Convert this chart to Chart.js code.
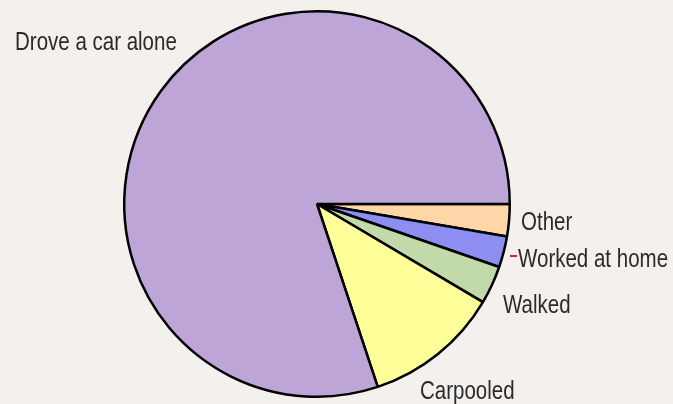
<!DOCTYPE html>
<html>
<head>
<meta charset="utf-8">
<script src="https://cdn.jsdelivr.net/npm/chart.js@4/dist/chart.umd.min.js"></script>
<style>
  html, body { margin: 0; padding: 0; background: #f3f0ed; }
  #wrap { width: 673px; height: 404px; }
</style>
</head>
<body>
<div id="wrap"><canvas id="c" width="673" height="404"></canvas></div>
<script>
// values (percent of commuters)
const categories = ["Other", "Worked at home", "Walked", "Carpooled", "Drove a car alone"];
const shares = [2.7, 2.6, 3.2, 11.4, 80.1];
const sliceColors = ["#ffd6a8", "#8e8ef2", "#c2d9a9", "#ffff99", "#bea5d8"];

// where each label text sits (left x, baseline y)
const labelPos = [[521, 230], [518, 267], [503, 313], [420, 399], [15, 50]];

const labelPlugin = {
  id: "labels",
  afterDatasetsDraw(chart) {
    const ctx = chart.ctx;
    ctx.save();
    ctx.fillStyle = "#2b2b2b";
    ctx.font = "20.5px 'Liberation Sans', Arial, sans-serif";
    ctx.textBaseline = "alphabetic";
    categories.forEach((name, i) => {
      const [x, y] = labelPos[i];
      ctx.save();
      ctx.translate(x, y);
      ctx.scale(1, 1.22);
      ctx.fillText(name, 0, 0);
      ctx.restore();
    });
    // small red leader next to "Worked at home"
    ctx.strokeStyle = "#e02020";
    ctx.lineWidth = 2;
    ctx.beginPath();
    ctx.moveTo(510, 256);
    ctx.lineTo(517, 256);
    ctx.stroke();
    ctx.restore();
  }
};

new Chart(document.getElementById("c"), {
  type: "pie",
  data: {
    labels: categories,
    datasets: [{
      data: shares,
      backgroundColor: sliceColors,
      borderColor: "#000",
      borderWidth: 2.5
    }]
  },
  options: {
    responsive: false,
    animation: false,
    rotation: 90,
    layout: { padding: { top: 10, bottom: 6, left: 0, right: 39 } },
    plugins: {
      legend: { display: false },
      tooltip: { enabled: false }
    }
  },
  plugins: [labelPlugin]
});
</script>
</body>
</html>
